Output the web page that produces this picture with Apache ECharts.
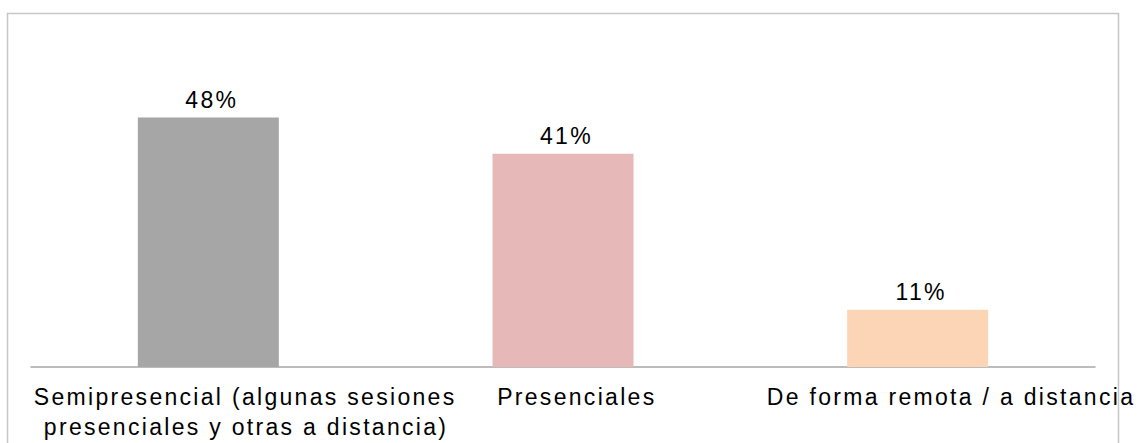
<!DOCTYPE html>
<html>
<head>
<meta charset="utf-8">
<script src="https://cdn.jsdelivr.net/npm/echarts@6/dist/echarts.min.js"></script>
<style>
html,body{margin:0;padding:0;background:#fff;}
#chart{width:1147px;height:443px;}
#chart svg text{letter-spacing:2.3px;}
</style>
</head>
<body>
<div id="chart"></div>
<script>
const categories = [
  "Semipresencial (algunas sesiones\npresenciales y otras a distancia)",
  "Presenciales",
  "De forma remota / a distancia"
];
const values = [48, 41, 11];
const barColors = ["#A6A6A6", "#E6B8B7", "#FBD5B5"];

const FONT = 'Liberation Sans, Arial, sans-serif';
const LABEL_SIZE = 23;

// measure natural line widths so each wrapped line is centred like the source
const mctx = document.createElement('canvas').getContext('2d');
mctx.font = LABEL_SIZE + 'px "Liberation Sans"';
const baseStyle = { color: '#000', fontFamily: FONT, fontSize: LABEL_SIZE, lineHeight: 30, align: 'left' };
const rich = { t: Object.assign({}, baseStyle) };
function catFormatter(value) {
  const lines = value.split('\n');
  const w = lines.map(l => mctx.measureText(l).width);
  const maxW = Math.max.apply(null, w);
  return lines.map((l, i) => {
    const off = Math.round((maxW - w[i]) / 2);
    if (off > 0) {
      rich['p' + off] = Object.assign({}, baseStyle, { padding: [0, 0, 0, off] });
      return '{p' + off + '|' + l + '}';
    }
    return '{t|' + l + '}';
  }).join('\n');
}
categories.forEach(catFormatter);

const chart = echarts.init(document.getElementById('chart'), null, { renderer: 'svg' });
chart.setOption({
  animation: false,
  backgroundColor: '#ffffff',
  graphic: [{
    type: 'rect',
    shape: { x: 7.5, y: 13.5, width: 1111, height: 450 },
    style: { fill: 'none', stroke: '#c6c6c6', lineWidth: 1.5 },
    silent: true
  }],
  grid: { left: 31, right: 52, top: 55, bottom: 76, containLabel: false },
  xAxis: {
    type: 'category',
    data: categories,
    axisLine: { show: true, lineStyle: { color: '#a6a6a6', width: 1.5 } },
    axisTick: { show: false },
    axisLabel: {
      interval: 0,
      margin: 15,
      formatter: catFormatter,
      rich: rich
    }
  },
  yAxis: {
    type: 'value',
    min: 0,
    max: 60,
    show: false,
    splitLine: { show: false }
  },
  series: [{
    type: 'bar',
    barWidth: 141,
    data: values.map((v, i) => ({ value: v, itemStyle: { color: barColors[i] } })),
    label: {
      show: true,
      position: 'top',
      distance: 6,
      formatter: p => '{v|' + p.value + '%}',
      rich: { v: { color: '#000', fontFamily: FONT, fontSize: LABEL_SIZE, align: 'left' } }
    }
  }]
});
</script>
</body>
</html>
